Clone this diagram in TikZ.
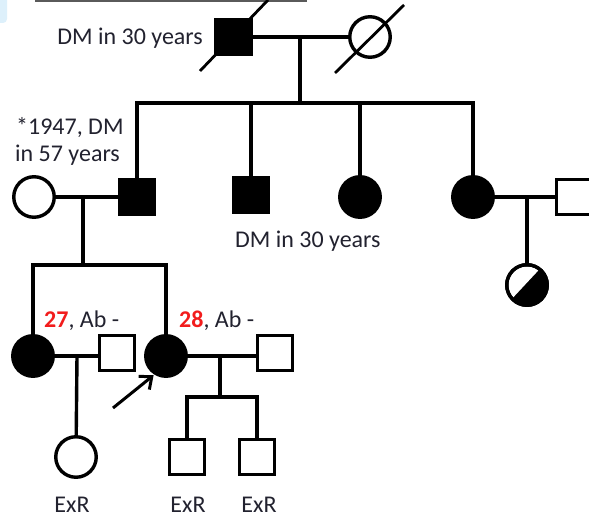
\documentclass[tikz,border=0pt]{standalone}
\usepackage{fontspec}
\setmainfont{Carlito}
\usetikzlibrary{arrows.meta,calc}
\definecolor{txt}{HTML}{22222F}
\definecolor{redn}{HTML}{F21C1C}
\definecolor{barg}{HTML}{5A5A5A}
\definecolor{lblue}{HTML}{DDF0FB}
\begin{document}
\begin{tikzpicture}[x=1pt,y=-1pt,
  ind/.style={draw=black, line width=3.4pt, inner sep=0pt},
  male/.style={ind, rectangle, minimum size=35.5pt},
  fem/.style={ind, circle, minimum size=40.5pt},
  aff/.style={fill=black},
  unaff/.style={fill=white},
  lnk/.style={line width=3.4pt},
  slash/.style={line width=2.8pt},
  lbl/.style={text=txt, font=\fontsize{24}{28}\selectfont, inner sep=0pt}]
\fill[white] (0,0) rectangle (589,518);
\useasboundingbox (0,0) rectangle (589,518);
\fill[barg] (35,0) rectangle (307,2.5);
\fill[lblue, rounded corners=4pt] (-6,-6) rectangle (7,23);

% generation 1
\node[male,aff] (GF) at (233.5,37) {};
\node[fem,unaff] (GM) at (370,37) {};
\draw[lnk] (GF) -- (GM);
\draw[slash] ($(GF.center)+(-33.5,34)$) -- ($(GF.center)+(34.5,-37)$);
\draw[slash] ($(GM.center)+(-35,36)$) -- ($(GM.center)+(34,-32)$);
\coordinate (m1) at (300,37);
\coordinate (s1) at (300,103);
\draw[lnk] (m1) -- (s1);
\node[lbl, anchor=base east] (t1) at (203,45) {DM in 30 years};

% generation 2
\node[fem,unaff] (Mo) at (34,197) {};
\node[male,aff] (Fa) at (137,197) {};
\node[male,aff] (U1) at (251,195) {};
\node[fem,aff] (A1) at (360,197) {};
\node[fem,aff] (A2) at (473,197) {};
\node[male,unaff] (UL) at (574,197) {};
\draw[lnk] (Fa.north) |- (s1) -| (A2.north);
\draw[lnk] (U1.north) -- (U1.north |- s1);
\draw[lnk] (A1.north) -- (A1.north |- s1);
\draw[lnk] (Mo) -- (Fa);
\draw[lnk] (A2) -- (UL);
\node[lbl, anchor=base west] (t2a) at (16,135) {*1947, DM};
\node[lbl, anchor=base west] (t2b) at (15,162) {in 57 years};
\node[lbl, anchor=base west] (t3) at (235,248) {DM in 30 years};

% cousin
\coordinate (m3) at (527,197);
\node[fem,unaff] (Co) at (527,285) {};
\fill[black] (Co.center) circle[radius=21.5pt];
\fill[white] ($(Co.center)+(52:18.5pt)$) arc[start angle=52, end angle=222, radius=18.5pt] -- cycle;
\draw[line width=3.4pt] (Co.center) circle[radius=20.25pt];
\draw[lnk] (m3) -- (Co);

% generation 3
\coordinate (m2) at (83,197);
\coordinate (s2) at (83,265);
\draw[lnk] (m2) -- (s2);
\node[fem,aff] (Si) at (33,356) {};
\node[male,unaff] (SH) at (117,353) {};
\node[fem,aff] (P) at (166,356) {};
\node[male,unaff] (PH) at (275,353) {};
\draw[lnk] (Si.north) |- (s2) -| (P.north);
\draw[lnk] (Si.east) -- (Si.east -| SH.west);
\draw[lnk] (P.east) -- (P.east -| PH.west);
\node[lbl, anchor=base west] (t4) at (44,328) {\textbf{\color{redn}27}, Ab -};
\node[lbl, anchor=base west] (t5) at (179,328) {\textbf{\color{redn}28}, Ab -};
\coordinate (arr) at (113,408);
\draw[line width=3pt, -{Straight Barb[length=10pt,width=17pt]}, shorten >=1pt] (arr) -- (P.238);

% generation 4
\coordinate (m4) at (77,356);
\node[fem,unaff] (Ni) at (76,457) {};
\draw[lnk] (m4) -- (Ni);
\coordinate (m5) at (220,356);
\coordinate (s4) at (220,397);
\draw[lnk] (m5) -- (s4);
\node[male,unaff] (B1) at (187,457) {};
\node[male,unaff] (B2) at (257,457) {};
\draw[lnk] (B1.north) |- (s4) -| (B2.north);
\node[lbl, anchor=base] (e1) at (72,512) {ExR};
\node[lbl, anchor=base] (e2) at (188,512) {ExR};
\node[lbl, anchor=base] (e3) at (259,512) {ExR};
\end{tikzpicture}
\end{document}
